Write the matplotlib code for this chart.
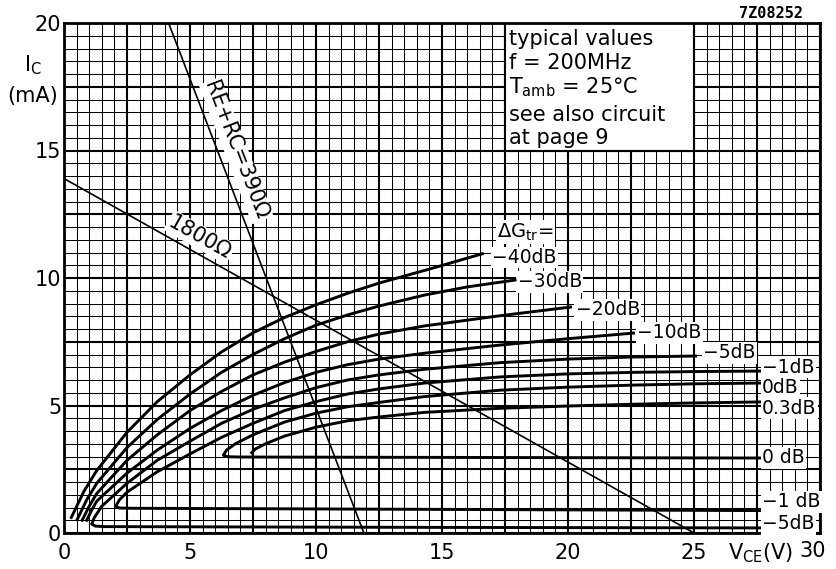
import numpy as np
import matplotlib.pyplot as plt
from matplotlib.ticker import MultipleLocator

# constant transducer-gain-change contours, V_CE (V) vs I_C (mA)
v_m40 = [0.29, 0.8, 1.3, 2.5, 3.7, 5.0, 6.25, 7.5, 8.75, 10.0, 11.25, 12.5, 14.5, 16.6]
i_m40 = [0.61, 1.65, 2.45, 3.95, 5.15, 6.2, 7.1, 7.85, 8.45, 8.95, 9.4, 9.8, 10.35, 10.95]

v_m30 = [0.52, 0.9, 1.3, 2.5, 3.7, 5.0, 6.25, 7.5, 8.75, 10.0, 11.25, 12.5, 14.3, 16.0, 17.9]
i_m30 = [0.52, 1.3, 1.95, 3.35, 4.45, 5.45, 6.3, 7.0, 7.62, 8.15, 8.55, 8.9, 9.33, 9.65, 9.92]

v_m20 = [0.72, 1.0, 1.3, 2.5, 3.7, 5.0, 6.25, 7.5, 8.75, 10.0, 11.25, 12.5, 14.3, 17.3, 20.1]
i_m20 = [0.5, 1.05, 1.55, 2.85, 3.85, 4.8, 5.55, 6.2, 6.7, 7.12, 7.5, 7.8, 8.12, 8.52, 8.86]

v_m10 = [0.9, 1.1, 1.3, 2.5, 3.7, 5.0, 6.25, 7.5, 8.75, 10.0, 11.25, 12.5, 14.3, 17.3, 20.0, 22.6]
i_m10 = [0.5, 0.9, 1.25, 2.35, 3.25, 4.1, 4.8, 5.4, 5.9, 6.3, 6.6, 6.82, 7.05, 7.37, 7.62, 7.84]

v_m5 = [27.6, 15.0, 1.6, 1.25, 1.1, 1.2, 1.5, 2.5, 3.7, 5.0, 6.25, 7.5, 8.75, 10.0, 11.25,
        12.5, 14.3, 17.3, 20.0, 22.5, 25.06]
i_m5 = [0.2, 0.22, 0.25, 0.27, 0.35, 0.6, 1.05, 1.95, 2.85, 3.6, 4.3, 4.85, 5.3, 5.7, 6.0,
        6.2, 6.42, 6.68, 6.82, 6.9, 6.94]

v_m1 = [27.6, 2.6, 2.2, 2.05, 2.2, 2.5, 3.7, 5.0, 6.25, 7.5, 8.75, 10.0, 11.25, 12.5, 14.3,
        17.3, 20.0, 22.6, 25.0, 27.6]
i_m1 = [0.88, 0.97, 0.98, 1.05, 1.3, 1.6, 2.4, 3.1, 3.75, 4.3, 4.8, 5.15, 5.45, 5.65, 5.88,
        6.12, 6.24, 6.3, 6.33, 6.35]

v_0 = [27.6, 7.0, 6.5, 6.32, 6.45, 6.8, 7.5, 8.75, 10.0, 11.25, 12.5, 14.3, 17.3, 20.0, 22.6, 25.0, 27.6]
i_0 = [2.94, 2.98, 2.99, 3.05, 3.25, 3.5, 3.85, 4.35, 4.7, 4.95, 5.12, 5.35, 5.6, 5.72, 5.8, 5.85, 5.88]

v_p03 = [7.45, 7.6, 8.0, 8.75, 10.0, 11.25, 12.5, 14.3, 17.3, 20.0, 22.6, 25.0, 27.6]
i_p03 = [3.15, 3.3, 3.5, 3.8, 4.15, 4.4, 4.55, 4.73, 4.89, 4.98, 5.05, 5.1, 5.14]

# load lines
v_390 = [4.15, 11.9]
i_390 = [20.0, 0.0]
v_1800 = [0.0, 25.0]
i_1800 = [13.9, 0.0]

# curve-end labels: text, left x, centre y
lab_text = ["\u221240dB", "\u221230dB", "\u221220dB", "\u221210dB", "\u22125dB", "\u22121dB",
            "0dB", "0.3dB", "0 dB", "\u22121 dB", "\u22125dB"]
lab_x = [17.0, 18.0, 20.3, 22.75, 25.35, 27.7, 27.7, 27.7, 27.7, 27.7, 27.7]
lab_y = [10.8, 9.85, 8.75, 7.85, 7.06, 6.5, 5.7, 4.9, 2.95, 1.22, 0.36]

fig = plt.figure(figsize=(8.36, 5.69), dpi=100)
ax = fig.add_axes([64/836, 36/569, 756/836, 510/569])
ax.set_xlim(0, 30)
ax.set_ylim(0, 20)

xt = np.arange(0, 30.1, 2.5)
yt = np.arange(0, 20.1, 2.5)
ax.set_xticks(xt)
ax.set_yticks(yt)
ax.set_xticklabels([str(int(v)) if v % 5 == 0 and v != 30 else "" for v in xt])
ax.set_yticklabels([str(int(v)) if v % 5 == 0 else "" for v in yt])
ax.xaxis.set_minor_locator(MultipleLocator(0.5))
ax.yaxis.set_minor_locator(MultipleLocator(0.5))
ax.tick_params(which="both", length=0, labelsize=15)
ax.tick_params(axis="x", pad=7)
ax.tick_params(axis="y", pad=2)
ax.grid(which="major", color="black", lw=1.5)
ax.grid(which="minor", color="black", lw=0.75)
ax.set_axisbelow(True)
for s in ax.spines.values():
    s.set_linewidth(2)

for v, i in [(v_m40, i_m40), (v_m30, i_m30), (v_m20, i_m20), (v_m10, i_m10),
             (v_m5, i_m5), (v_m1, i_m1), (v_0, i_0), (v_p03, i_p03)]:
    ax.plot(v, i, color="black", lw=2.1, solid_joinstyle="round", zorder=4)

ax.plot(v_390, i_390, color="black", lw=1.2, zorder=4)
ax.plot(v_1800, i_1800, color="black", lw=1.2, zorder=4)

box = dict(facecolor="white", edgecolor="none", pad=1)
for t, x, y in zip(lab_text, lab_x, lab_y):
    ax.text(x, y, t, fontsize=13.5, ha="left", va="center", bbox=box, zorder=3)
ax.text(17.2, 11.8, r"$\Delta$G$_{\mathregular{tr}}$=", fontsize=14, ha="left", va="center",
        bbox=box, zorder=3)

ax.text(6.83, 15.0, "RE+RC=390\u03a9", fontsize=15, rotation=-69, rotation_mode="anchor",
        ha="center", va="center", bbox=box, zorder=3)
ax.text(5.4, 11.6, "1800\u03a9", fontsize=15, rotation=-29.4, rotation_mode="anchor",
        ha="center", va="center", bbox=box, zorder=3)

# info box in the top right
ax.add_patch(plt.Rectangle((17.5, 15), 7.5, 5, facecolor="white", edgecolor="black", lw=1.5, zorder=2.5))
info = ["typical values", "f = 200MHz", "T$_{\\mathregular{amb}}$ = 25\u00b0C", "see also circuit", "at page 9"]
info_y = [19.37, 18.43, 17.5, 16.4, 15.5]
for t, y in zip(info, info_y):
    ax.text(17.66, y, t, fontsize=15, ha="left", va="center", zorder=3)

fig.text(33/836, 1 - 65/569, r"I$_{\mathregular{C}}$", fontsize=15, ha="center", va="center")
fig.text(33/836, 1 - 96/569, "(mA)", fontsize=15, ha="center", va="center")
fig.text(761/836, 1 - 553/569, r"V$_{\mathregular{CE}}$(V)", fontsize=15, ha="center", va="center")
fig.text(813/836, 1 - 551/569, "30", fontsize=15, ha="center", va="center")
fig.text(771/836, 1 - 14/569, "7Z08252", fontsize=11, family="DejaVu Sans Mono",
         fontweight="bold", ha="center", va="center")

fig.savefig("out.png", dpi=100)
